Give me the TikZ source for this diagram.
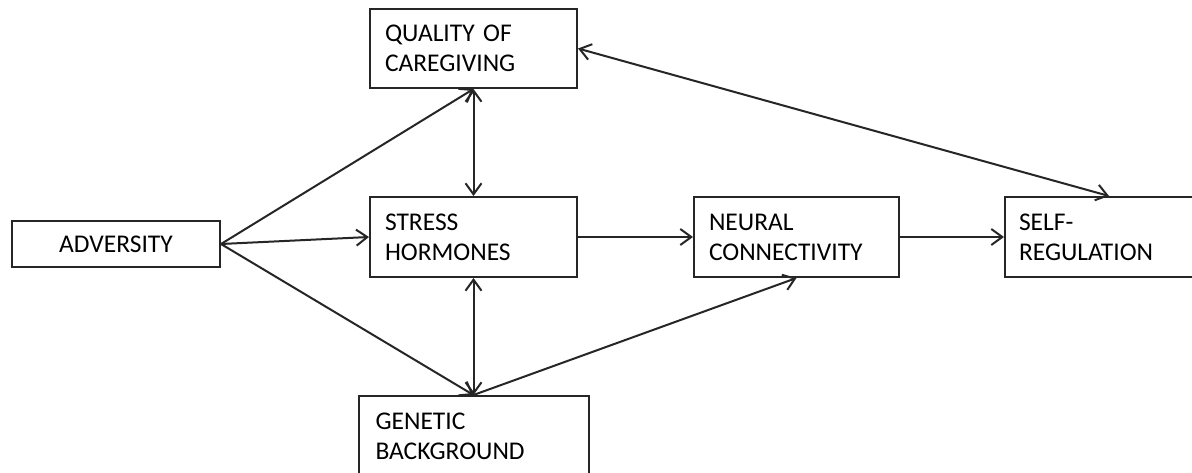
\documentclass[tikz,border=0pt]{standalone}
\usepackage{fontspec}
\setmainfont{Carlito}
\usepackage{tikz}
\usetikzlibrary{arrows.meta,positioning}
\definecolor{Ink}{HTML}{262626}

\begin{document}
\begin{tikzpicture}[x=1pt,y=1pt,font=\fontsize{25.5}{30}\selectfont,
    >={Straight Barb[length=11pt,width=16pt]},
    box/.style={draw=Ink,line width=2pt,align=left,inner xsep=15pt,inner ysep=0pt,minimum height=80pt},
    link/.style={draw=Ink,line width=2pt}]
  \clip (0,0) rectangle (1192,-473);
  \node[box,text width=177pt] (stress) at (473.5,-237) {STRESS\\HORMONES};
  \node[box,text width=177pt,minimum height=79pt,above=107pt of stress] (care) {QUALITY OF\\CAREGIVING};
  \node[box,text width=175pt,right=115pt of stress] (neural) {NEURAL\\CONNECTIVITY};
  \node[box,text width=180pt,inner xsep=14pt,right=104pt of neural] (selfreg) {SELF-\\REGULATION};
  \node[box,text width=196pt,inner xsep=17pt,below=117pt of stress] (genes) {GENETIC\\BACKGROUND};
  \node[box,align=center,text width=178pt,minimum height=46pt,left=148pt of stress,yshift=-7pt] (adv) {ADVERSITY};
  % paths out of adversity
  \draw[link,->] (adv.east) -- (care.south);
  \draw[link,->] (adv.east) -- (stress.west);
  \draw[link,->] (adv.east) -- (genes.north);
  % two-way links
  \draw[link,<->] (care.south) -- (stress.north);
  \draw[link,<->] (stress.south) -- (genes.north);
  \draw[link,<->] (care.east) -- (selfreg.north);
  % main chain
  \draw[link,->] (stress.east) -- (neural.west);
  \draw[link,->] (neural.east) -- (selfreg.west);
  \draw[link,->] (genes.north) -- (neural.south);
\end{tikzpicture}
\end{document}
